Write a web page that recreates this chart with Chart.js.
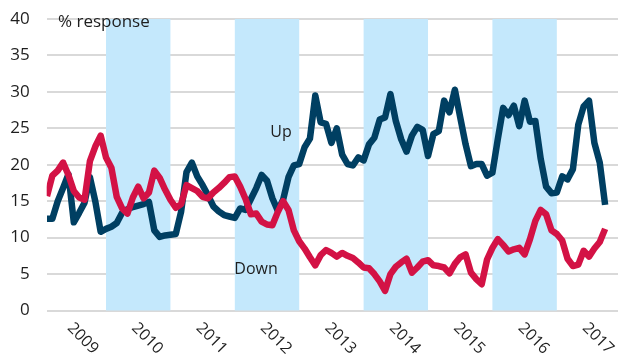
<!DOCTYPE html>
<html>
<head>
<meta charset="utf-8">
<script src="https://cdn.jsdelivr.net/npm/chart.js@4/dist/chart.umd.min.js"></script>
<style>
  html, body { margin: 0; padding: 0; background: #ffffff; }
  #wrap { width: 618px; height: 356px; }
</style>
</head>
<body>
<div id="wrap"><canvas id="chart" width="618" height="356"></canvas></div>
<script>
// Monthly survey shares, first observation February 2009
const firstYear = 2009;
const firstMonth = 2;

// Share of respondents answering "Up" (% response), one row per year
const upShare = [
  12.6, 12.6, 15.0, 16.8, 18.7, 12.1, 13.4, 14.8, 18.3, 15.0, 10.8,
  11.2, 11.5, 12.0, 13.4, 13.9, 14.2, 14.4, 14.6, 14.9, 11.0, 10.1, 10.3,
  10.4, 10.5, 13.6, 19.0, 20.3, 18.4, 17.2, 15.8, 14.3, 13.6, 13.1, 12.9,
  12.7, 14.0, 13.8, 15.3, 16.8, 18.6, 17.8, 15.4, 13.7, 15.2, 18.3, 19.9,
  20.1, 22.4, 23.6, 29.5, 25.8, 25.6, 23.0, 25.0, 21.4, 20.1, 19.9, 21.0,
  20.6, 22.8, 23.7, 26.2, 26.5, 29.7, 26.0, 23.5, 21.8, 24.0, 25.2, 24.8,
  21.2, 24.2, 24.6, 28.8, 27.2, 30.3, 26.5, 22.8, 19.8, 20.1, 20.1, 18.5,
  18.9, 23.5, 27.8, 26.8, 28.1, 25.3, 28.8, 25.9, 26.0, 20.8, 17.0, 16.1,
  16.2, 18.4, 18.0, 19.4, 25.5, 28.0, 28.8, 23.0, 20.3, 14.5
];

// Share of respondents answering "Down" (% response)
const downShare = [
  15.7, 18.5, 19.2, 20.3, 18.6, 16.4, 15.5, 15.2, 20.5, 22.5, 24.0,
  21.0, 19.6, 15.6, 14.0, 13.3, 15.5, 17.0, 15.4, 16.2, 19.2, 18.2, 16.6,
  15.2, 14.1, 14.6, 17.2, 16.8, 16.4, 15.6, 15.4, 16.2, 16.8, 17.5, 18.3,
  18.4, 17.0, 15.3, 13.2, 13.3, 12.2, 11.8, 11.7, 13.5, 15.0, 13.8, 11.0,
  9.5, 8.5, 7.3, 6.2, 7.6, 8.3, 7.9, 7.4, 7.9, 7.5, 7.2, 6.6,
  5.9, 5.8, 5.0, 4.0, 2.7, 5.0, 6.0, 6.6, 7.1, 5.2, 5.9, 6.7,
  6.9, 6.2, 6.1, 5.9, 5.1, 6.4, 7.3, 7.7, 5.2, 4.3, 3.6, 7.0,
  8.6, 9.8, 9.0, 8.1, 8.4, 8.6, 7.7, 9.8, 12.3, 13.8, 13.2, 11.0,
  10.5, 9.6, 7.1, 6.1, 6.3, 8.2, 7.4, 8.5, 9.4, 11.2
];

const yearLabels = ['2009', '2010', '2011', '2012', '2013', '2014', '2015', '2016', '2017'];
const shadedYears = [2010, 2012, 2014, 2016];
const yTickValues = [0, 5, 10, 15, 20, 25, 30, 35, 40];

// Time axis position of each monthly observation (fractional years)
const monthPos = upShare.map((_, i) => firstYear + (firstMonth - 1 + i) / 12);
const toPoints = arr => arr.map((v, i) => ({ x: monthPos[i], y: v }));

const FONT = "'Open Sans', 'Noto Sans', sans-serif";
const TEXT = '#1e1e1e';

// Alternate-year shading behind the lines
const yearBands = {
  id: 'yearBands',
  beforeDatasetsDraw(chart) {
    const { ctx, chartArea, scales: { x } } = chart;
    ctx.save();
    ctx.fillStyle = '#c4e8fc';
    shadedYears.forEach(yr => {
      const a = x.getPixelForValue(yr);
      const b = x.getPixelForValue(yr + 1);
      ctx.fillRect(a, chartArea.top, b - a, chartArea.bottom - chartArea.top);
    });
    ctx.restore();
  }
};

// Slanted year labels and in-plot annotations
const annotations = {
  id: 'annotations',
  afterDraw(chart) {
    const { ctx, chartArea, scales: { x, y } } = chart;
    ctx.save();
    ctx.fillStyle = TEXT;

    ctx.font = '16px ' + FONT;
    ctx.textAlign = 'center';
    ctx.textBaseline = 'middle';
    yearLabels.forEach(lbl => {
      const cx = x.getPixelForValue(Number(lbl) + 0.5) + 9;
      const cy = chartArea.bottom + 28;
      ctx.save();
      ctx.translate(cx, cy);
      ctx.rotate(Math.PI / 4);
      ctx.fillText(lbl, 0, 0);
      ctx.restore();
    });

    ctx.font = '17px ' + FONT;
    ctx.textAlign = 'left';
    ctx.textBaseline = 'middle';
    ctx.fillText('% response', x.getPixelForValue(2009.254), y.getPixelForValue(39.5));

    ctx.font = '16px ' + FONT;
    ctx.textAlign = 'center';
    ctx.fillText('Up', x.getPixelForValue(2012.717), y.getPixelForValue(24.4));
    ctx.fillText('Down', x.getPixelForValue(2012.329), y.getPixelForValue(5.7));
    ctx.restore();
  }
};

new Chart(document.getElementById('chart'), {
  type: 'line',
  data: {
    datasets: [
      {
        label: 'Down',
        data: toPoints(downShare),
        borderColor: '#d31245',
        borderWidth: 6.5,
        pointRadius: 0,
        tension: 0,
        borderJoinStyle: 'round',
        order: 0
      },
      {
        label: 'Up',
        data: toPoints(upShare),
        borderColor: '#003f62',
        borderWidth: 6.5,
        pointRadius: 0,
        tension: 0,
        borderJoinStyle: 'round',
        order: 1
      }
    ]
  },
  options: {
    responsive: false,
    animation: false,
    devicePixelRatio: 1,
    layout: { padding: { top: 19, right: 0, bottom: 45.5, left: 0 } },
    plugins: { legend: { display: false }, tooltip: { enabled: false } },
    scales: {
      x: {
        type: 'linear',
        display: false,
        min: 2009.079,
        max: 2017.95
      },
      y: {
        min: 0,
        max: 40,
        afterBuildTicks: s => { s.ticks = yTickValues.map(v => ({ value: v })); },
        afterFit: s => { s.width = 46.7; s.paddingTop = 0; s.paddingBottom = 0; },
        border: { display: false },
        grid: { color: '#d9d9d9', lineWidth: 2, drawTicks: false },
        ticks: {
          padding: 17,
          color: TEXT,
          font: { family: FONT, size: 17 }
        }
      }
    }
  },
  plugins: [yearBands, annotations]
});
</script>
</body>
</html>
